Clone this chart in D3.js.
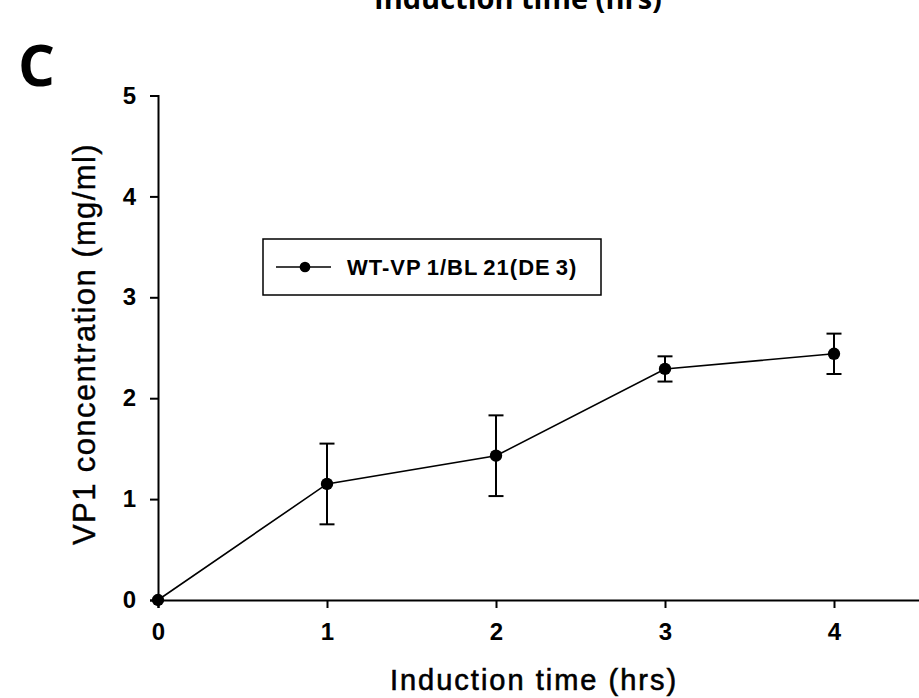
<!DOCTYPE html>
<html>
<head>
<meta charset="utf-8">
<script src="https://cdn.jsdelivr.net/npm/d3@7"></script>
<style>
    body { margin: 0; background: #fff; }
    svg { display: block; }
</style>
</head>
<body>
<div class="container"></div>
<script>
//chart values
var times = [0, 1, 2, 3, 4];
var concentration = [0, 1.15, 1.43, 2.29, 2.44];
var errors = [0, 0.40, 0.40, 0.125, 0.20];
var yTicks = [0, 1, 2, 3, 4, 5];
var seriesName = ["WT-VP", "1/BL", "21(DE", "3)"];

(function () {

    var width = 919,
        height = 698;

    function setChart() {
        var svg = d3.select(".container")
            .append("svg")
            .attr("width", width)
            .attr("height", height);

        //scales, x axis runs off the right edge like the original crop
        var xScale = d3.scaleLinear()
            .domain([0, 5])
            .range([158, 158 + 5 * 169]);

        var yScale = d3.scaleLinear()
            .domain([0, 5])
            .range([600, 95.5]);

        //panel letter
        svg.append("text")
            .attr("x", 18)
            .attr("y", 86)
            .style("font-family", "'Open Sans', sans-serif")
            .style("font-weight", "bold")
            .style("font-size", "58px")
            .text("C");

        //cut off title from the panel above
        svg.append("text")
            .attr("x", 518)
            .attr("y", 9)
            .attr("text-anchor", "middle")
            .style("font-family", "'Open Sans', sans-serif")
            .style("font-weight", "bold")
            .style("font-size", "29px")
            .text("Induction time (hrs)");

        //axes
        var xAxis = d3.axisBottom(xScale)
            .tickValues(times)
            .tickSize(8)
            .tickPadding(15)
            .tickFormat(d3.format("d"));

        var yAxis = d3.axisLeft(yScale)
            .tickValues(yTicks)
            .tickSize(8)
            .tickPadding(14)
            .tickFormat(d3.format("d"));

        var gx = svg.append("g")
            .attr("class", "axis")
            .attr("transform", "translate(0," + yScale(0) + ")")
            .call(xAxis);

        var gy = svg.append("g")
            .attr("class", "axis")
            .attr("transform", "translate(" + xScale(0) + ",0)")
            .call(yAxis);

        [gx, gy].forEach(function (g) {
            g.attr("font-size", null).attr("font-family", null);
            g.select(".domain").attr("stroke", "#000").attr("stroke-width", 2);
            g.selectAll(".tick line").attr("stroke", "#000").attr("stroke-width", 2);
            g.selectAll(".tick text")
                .attr("fill", "#000")
                .style("font-family", "'Liberation Sans', Arial, sans-serif")
                .style("font-weight", "bold")
                .style("font-size", "24px");
        });

        //axis titles
        svg.append("text")
            .attr("x", 534)
            .attr("y", 690)
            .attr("text-anchor", "middle")
            .style("font-family", "'Liberation Sans', Arial, sans-serif")
            .style("font-size", "29px")
            .style("letter-spacing", "2px")
            .style("stroke", "#000")
            .style("stroke-width", 0.6)
            .text("Induction time (hrs)");

        svg.append("text")
            .attr("transform", "translate(95," + 344 + ") rotate(-90)")
            .attr("text-anchor", "middle")
            .style("font-family", "'Liberation Sans', Arial, sans-serif")
            .style("font-size", "31px")
            .style("letter-spacing", "1.4px")
            .style("stroke", "#000")
            .style("stroke-width", 0.4)
            .text("VP1 concentration (mg/ml)");

        //data line
        var points = times.map(function (t, i) {
            return { t: t, v: concentration[i], e: errors[i] };
        });

        var line = d3.line()
            .x(function (d) { return xScale(d.t); })
            .y(function (d) { return yScale(d.v); });

        svg.append("path")
            .datum(points)
            .attr("fill", "none")
            .attr("stroke", "#000")
            .attr("stroke-width", 1.6)
            .attr("d", line);

        //error bars
        var bars = svg.selectAll(".err")
            .data(points.filter(function (d) { return d.e > 0; }))
            .enter()
            .append("g")
            .attr("class", "err")
            .attr("stroke", "#000")
            .attr("stroke-width", 2);

        bars.append("line")
            .attr("x1", function (d) { return xScale(d.t); })
            .attr("x2", function (d) { return xScale(d.t); })
            .attr("y1", function (d) { return yScale(d.v + d.e); })
            .attr("y2", function (d) { return yScale(d.v - d.e); });

        bars.append("line")
            .attr("x1", function (d) { return xScale(d.t) - 7.5; })
            .attr("x2", function (d) { return xScale(d.t) + 7.5; })
            .attr("y1", function (d) { return yScale(d.v + d.e); })
            .attr("y2", function (d) { return yScale(d.v + d.e); });

        bars.append("line")
            .attr("x1", function (d) { return xScale(d.t) - 7.5; })
            .attr("x2", function (d) { return xScale(d.t) + 7.5; })
            .attr("y1", function (d) { return yScale(d.v - d.e); })
            .attr("y2", function (d) { return yScale(d.v - d.e); });

        //markers, filled circles
        var marker = d3.symbol().type(d3.symbolCircle).size(120);

        svg.selectAll(".pt")
            .data(points)
            .enter()
            .append("path")
            .attr("class", "pt")
            .attr("d", marker)
            .attr("transform", function (d) {
                return "translate(" + xScale(d.t) + "," + yScale(d.v) + ")";
            })
            .attr("fill", "#000");

        setLegend(svg);
    }

    //legend box with line and marker
    function setLegend(svg) {
        var legend = svg.append("g")
            .attr("class", "legend")
            .attr("transform", "translate(263,239)");

        legend.append("rect")
            .attr("width", 338)
            .attr("height", 56)
            .attr("fill", "#fff")
            .attr("stroke", "#000")
            .attr("stroke-width", 1.5);

        legend.append("line")
            .attr("x1", 13)
            .attr("x2", 68)
            .attr("y1", 28)
            .attr("y2", 28)
            .attr("stroke", "#000")
            .attr("stroke-width", 1.6);

        legend.append("path")
            .attr("d", d3.symbol().type(d3.symbolCircle).size(90))
            .attr("transform", "translate(42,28)")
            .attr("fill", "#000");

        var label = legend.append("text")
            .attr("x", 84)
            .attr("y", 36)
            .style("font-family", "'Liberation Sans', Arial, sans-serif")
            .style("font-weight", "bold")
            .style("font-size", "22px")
            .style("letter-spacing", "1px");

        label.selectAll("tspan")
            .data(seriesName)
            .enter()
            .append("tspan")
            .attr("dx", function (d, i) { return i === 0 ? 0 : 5; })
            .text(function (d) { return d; });
    }

    window.onload = setChart;

})();
</script>
</body>
</html>
